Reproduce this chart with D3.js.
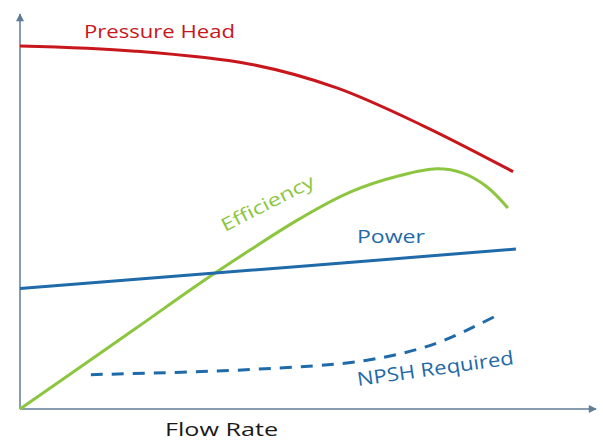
<!DOCTYPE html>
<html>
<head>
<meta charset="utf-8">
<script src="https://cdn.jsdelivr.net/npm/d3@7"></script>
<style>
  body { margin: 0; background: #fff; }
  text { font-family: "Open Sans", sans-serif; }
</style>
</head>
<body>
<svg id="chart"></svg>
<script>
let svgWidth = 603, svgHeight = 442

// flow rate in % of axis length, values in % of axis height
let headFlow = [0, 20, 40, 55, 70, 85.6]
let headValue = [91.9, 90.6, 87.3, 81.3, 71.7, 60.1]

let effFlow = [0, 20, 31.3, 40, 48.6, 57.3, 66, 72.4, 76.9, 81.1, 84.7]
let effValue = [0, 20.3, 31.9, 40.3, 48.2, 54.9, 59.1, 60.8, 59.7, 56.2, 50.9]

let powerFlow = [0, 48.4, 86.1]
let powerValue = [30.5, 36.1, 40.5]

let npshFlow = [12.3, 40, 60, 72, 82.8]
let npshValue = [8.7, 10, 12.3, 16.5, 23.7]

let labels = ['Pressure Head', 'Efficiency', 'Power', 'NPSH Required']
let xTitle = 'Flow Rate'

let svg = d3.select('#chart').attr('width', svgWidth).attr('height', svgHeight)

let x = d3.scaleLinear().domain([0, 100]).range([20, 596])
let y = d3.scaleLinear().domain([0, 100]).range([409, 14])

let axisColor = '#5f7d95'
let defs = svg.append('defs')
defs.append('marker').attr('id', 'arrow')
  .attr('viewBox', '0 0 10 10').attr('refX', 9).attr('refY', 5)
  .attr('markerWidth', 9).attr('markerHeight', 8).attr('markerUnits', 'userSpaceOnUse')
  .attr('orient', 'auto')
  .append('path').attr('d', 'M0,0 L10,5 L0,10 Z').attr('fill', axisColor)

// axes
svg.append('line')
  .attr('x1', x(0)).attr('y1', y(0)).attr('x2', x(0)).attr('y2', y(100))
  .attr('stroke', axisColor).attr('stroke-width', 1.5).attr('marker-end', 'url(#arrow)')
svg.append('line')
  .attr('x1', x(0)).attr('y1', y(0)).attr('x2', x(100)).attr('y2', y(0))
  .attr('stroke', axisColor).attr('stroke-width', 1.5).attr('marker-end', 'url(#arrow)')

let line = d3.line().x(d => x(d[0])).y(d => y(d[1])).curve(d3.curveCatmullRom.alpha(0.5))

let series = [
  { flow: headFlow, value: headValue, color: '#c8161d', dash: null },
  { flow: effFlow, value: effValue, color: '#8cc63f', dash: null },
  { flow: powerFlow, value: powerValue, color: '#1f6aa8', dash: null },
  { flow: npshFlow, value: npshValue, color: '#1f6aa8', dash: '12,9' }
]

svg.selectAll('path.curve').data(series).enter().append('path')
  .attr('class', 'curve')
  .attr('d', s => line(d3.zip(s.flow, s.value)))
  .attr('fill', 'none')
  .attr('stroke', s => s.color)
  .attr('stroke-width', 3)
  .attr('stroke-dasharray', s => s.dash)

// curve labels
let labelPos = [
  { x: 84, y: 38, rot: 0, len: 151, size: 19, color: '#c8161d' },
  { x: 225, y: 232, rot: -27, len: 102, size: 18, color: '#8cc63f' },
  { x: 357, y: 243, rot: 0, len: 68, size: 18, color: '#1f6aa8' },
  { x: 358, y: 386, rot: -8, len: 158, size: 19, color: '#1f6aa8' }
]

svg.selectAll('text.label').data(labels).enter().append('text')
  .attr('class', 'label')
  .attr('transform', (d, i) => `translate(${labelPos[i].x},${labelPos[i].y}) rotate(${labelPos[i].rot})`)
  .attr('textLength', (d, i) => labelPos[i].len)
  .attr('lengthAdjust', 'spacingAndGlyphs')
  .style('font-size', (d, i) => labelPos[i].size + 'px')
  .attr('fill', (d, i) => labelPos[i].color)
  .text(d => d)

svg.append('text')
  .attr('x', 165).attr('y', 436)
  .attr('textLength', 113).attr('lengthAdjust', 'spacingAndGlyphs')
  .style('font-size', '19px')
  .attr('fill', '#1a1a1a')
  .text(xTitle)
</script>
</body>
</html>
